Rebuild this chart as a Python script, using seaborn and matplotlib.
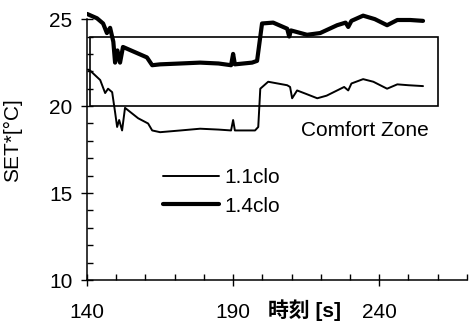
import matplotlib
matplotlib.use("Agg")
import matplotlib.pyplot as plt
import matplotlib.transforms as mtransforms
from matplotlib.patches import Rectangle
from matplotlib.lines import Line2D
from matplotlib.ticker import MultipleLocator, FixedLocator
import seaborn as sns

# SET* time series for two clothing levels
time_11 = [140.3, 141.0, 144.5, 146.2, 147.2, 148.6, 149.6, 150.3, 151.0, 152.0, 153.0,
           157.5, 160.9, 162.3, 165.0, 172.0, 178.7, 185.0, 189.3, 190.0, 190.6,
           197.5, 198.6, 199.3, 202.0, 208.5, 209.5, 210.2, 211.9, 215.0, 218.8,
           222.0, 225.6, 228.0, 229.4, 230.5, 234.5, 238.0, 242.7, 246.2, 250.0, 255.0]
set_11 = [22.1, 22.05, 21.5, 20.75, 21.0, 20.8, 19.65, 18.8, 19.2, 18.6, 19.9,
          19.3, 19.0, 18.6, 18.5, 18.6, 18.7, 18.65, 18.6, 19.2, 18.6,
          18.6, 18.8, 21.0, 21.4, 21.2, 21.1, 20.45, 20.9, 20.7, 20.45,
          20.6, 20.9, 21.1, 20.9, 21.3, 21.55, 21.4, 21.0, 21.25, 21.2, 21.15]

time_14 = [140.0, 143.4, 145.5, 146.8, 147.9, 149.0, 149.6, 150.4, 151.3, 152.3,
           156.4, 160.5, 162.3, 165.0, 172.0, 178.7, 185.0, 189.3, 190.0, 190.6,
           196.5, 198.2, 199.9, 203.7, 208.5, 209.2, 209.8, 215.3, 219.8, 225.6,
           228.5, 229.4, 230.5, 234.5, 238.5, 242.7, 246.2, 250.6, 255.0]
set_14 = [25.3, 25.05, 24.75, 24.2, 24.5, 23.7, 22.5, 23.2, 22.5, 23.4,
          23.1, 22.8, 22.35, 22.4, 22.45, 22.5, 22.45, 22.35, 23.0, 22.4,
          22.5, 22.6, 24.75, 24.8, 24.45, 24.0, 24.35, 24.1, 24.2, 24.65,
          24.8, 24.55, 24.9, 25.2, 25.0, 24.65, 24.95, 24.95, 24.9]

series_labels = ["1.1clo", "1.4clo"]
comfort_time = (141.0, 260.0)
comfort_set = (20.0, 24.0)
x_ticks = [140, 190, 240]
y_ticks = [10, 15, 20, 25]

sns.set_style("ticks")
plt.rcParams["font.family"] = ["Liberation Sans", "Noto Sans CJK JP"]
plt.rcParams["text.color"] = "black"
plt.rcParams["axes.labelcolor"] = "black"

fig = plt.figure(figsize=(4.73, 3.26), dpi=100)
ax = fig.add_axes([0.184, 0.141, 0.803, 0.827])

thin_w, thick_w = 1.4, 3.0
sns.lineplot(x=time_11, y=set_11, ax=ax, color="black", linewidth=thin_w,
             estimator=None, sort=False)
sns.lineplot(x=time_14, y=set_14, ax=ax, color="black", linewidth=thick_w,
             estimator=None, sort=False)

# comfort zone box
ax.add_patch(Rectangle((comfort_time[0], comfort_set[0]),
                       comfort_time[1] - comfort_time[0],
                       comfort_set[1] - comfort_set[0],
                       fill=False, edgecolor="black", linewidth=1.2))
ax.text(235, 18.6, "Comfort Zone", ha="center", va="center", fontsize=15,
        color="black")

ax.set_xlim(140, 270)
ax.set_ylim(10, 25.5)
ax.xaxis.set_major_locator(FixedLocator(x_ticks))
ax.xaxis.set_minor_locator(MultipleLocator(10))
ax.yaxis.set_major_locator(FixedLocator(y_ticks))
ax.yaxis.set_minor_locator(MultipleLocator(1))
ax.tick_params(axis="both", which="major", direction="inout", length=9,
               width=1.0, labelsize=15, colors="black")
ax.tick_params(axis="x", which="major", pad=12)
ax.tick_params(axis="y", which="major", pad=6)
ax.tick_params(axis="both", which="minor", direction="in", length=4, width=1.0,
               colors="black")

for side in ("top", "right"):
    ax.spines[side].set_visible(False)
for side in ("left", "bottom"):
    ax.spines[side].set_linewidth(1.1)
    ax.spines[side].set_color("black")
ax.spines["left"].set_bounds(10, 25)

ax.set_xlabel("")
ax.set_ylabel("SET*[°C]", fontsize=15, color="black")
ax.yaxis.set_label_coords(-0.17, 0.52)

trans = mtransforms.blended_transform_factory(ax.transData, ax.transAxes)
ax.text(214.5, -0.112, "時刻 [s]", transform=trans, ha="center", va="center",
        fontsize=15, fontweight="bold", color="black")

handles = [Line2D([], [], color="black", linewidth=thin_w),
           Line2D([], [], color="black", linewidth=thick_w)]
leg = ax.legend(handles, series_labels, loc="upper left",
                bbox_to_anchor=(0.2, 0.415), frameon=False, fontsize=15,
                handlelength=2.7, handletextpad=0.25, labelspacing=0.45,
                borderpad=0, borderaxespad=0)
for t in leg.get_texts():
    t.set_color("black")

fig.savefig("out.png", dpi=100)
